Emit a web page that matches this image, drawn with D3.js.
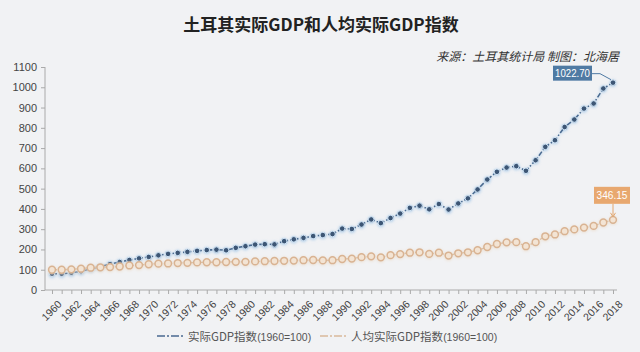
<!DOCTYPE html>
<html>
<head>
<meta charset="utf-8">
<script src="https://cdn.jsdelivr.net/npm/d3@7"></script>
<style>
  body { margin: 0; background: #f1f2f4; }
  svg { display: block; font-family: "Noto Sans CJK SC", "Liberation Sans", sans-serif; }
</style>
</head>
<body>
<svg id="chart" width="640" height="352"></svg>
<script>
// ── Data ──
const years = d3.range(1960, 2019);
const realGdp = [
  80, 80, 85, 92, 105, 115, 128, 138, 148, 156,
  163, 171, 178, 183, 188, 193, 197, 199, 196, 208,
  216, 224, 226, 225, 241, 250, 257, 266, 271, 276,
  303, 301, 323, 348, 330, 355, 377, 405, 416, 398,
  424, 397, 427, 452, 496, 545, 583, 604, 611, 588,
  640, 706, 739, 804, 841, 895, 920, 994, 1022.7
];
const perCapita = [
  100, 100, 102, 105, 110, 112, 113, 116, 121, 123,
  127, 130, 131, 133, 134, 136, 137, 137, 138, 139,
  139, 141, 142, 143, 144, 145, 147, 148, 146, 147,
  153, 155, 162, 166, 161, 172, 177, 184, 186, 178,
  184, 170, 181, 186, 196, 212, 227, 235, 236, 216,
  236, 265, 274, 290, 299, 308, 316, 333, 346.15
];
const yTicks = d3.range(0, 1101, 100);
const seriesNames = ["实际GDP指数(1960=100)", "人均实际GDP指数(1960=100)"];

const latin = "'Liberation Sans', sans-serif";
const svg = d3.select("#chart");
const x = d3.scaleLinear().domain([1960, 2018]).range([52, 613]);
const y = d3.scaleLinear().domain([0, 1100]).range([290, 67]);

// ── Glow filters ──
const defs = svg.append("defs");
function glow(id, color) {
  const f = defs.append("filter").attr("id", id)
    .attr("x", "-20%").attr("y", "-20%").attr("width", "140%").attr("height", "140%");
  f.append("feDropShadow").attr("dx", 0).attr("dy", 0.6)
    .attr("stdDeviation", 1.4).attr("flood-color", color).attr("flood-opacity", 0.9);
}
glow("glowBlue", "#9cc3e6");
glow("glowTan", "#ead9c6");

// ── Title ──
svg.append("text")
  .attr("x", 321).attr("y", 31)
  .attr("text-anchor", "middle")
  .attr("font-size", 17).attr("font-weight", "bold").attr("fill", "#222")
  .text("土耳其实际GDP和人均实际GDP指数");

svg.append("text")
  .attr("x", 619).attr("y", 61)
  .attr("text-anchor", "end")
  .attr("font-size", 12).attr("font-style", "italic").attr("fill", "#333")
  .text("来源：土耳其统计局  制图：北海居");

// ── Axes ──
const yAxis = svg.append("g")
  .attr("transform", "translate(45,0)")
  .call(d3.axisLeft(y).tickValues(yTicks).tickFormat(d3.format("d")).tickSize(4).tickPadding(4));
yAxis.select(".domain").attr("stroke", "#aaa").attr("d", `M0,${y(1100)}V${y(0)}`);
yAxis.selectAll(".tick line").attr("stroke", "#aaa");
yAxis.selectAll("text").attr("font-size", 11).attr("fill", "#444")
  .attr("font-family", latin);

const xAxis = svg.append("g")
  .attr("transform", `translate(0,${y(0)})`)
  .call(d3.axisBottom(x).tickValues(years).tickSize(4)
    .tickFormat(d => (d % 2 === 0 ? d : "")));
xAxis.select(".domain").attr("stroke", "#aaa").attr("d", "M45,0H617");
xAxis.selectAll(".tick line").attr("stroke", "#aaa");
xAxis.selectAll("text")
  .attr("font-size", 10.5).attr("fill", "#444")
  .attr("font-family", latin)
  .attr("text-anchor", "end")
  .attr("dy", 0).attr("dx", 0)
  .attr("transform", "translate(5,10) rotate(-45)");

// ── Lines ──
const lineGen = vals => d3.line().x((d, i) => x(years[i])).y(d => y(d))(vals);

const blueG = svg.append("g").attr("filter", "url(#glowBlue)");
blueG.append("path")
  .attr("d", lineGen(realGdp))
  .attr("fill", "none").attr("stroke", "#4a6a90").attr("stroke-width", 1.6)
  .attr("stroke-dasharray", "5,2,1.5,2");
blueG.selectAll("circle").data(realGdp).join("circle")
  .attr("cx", (d, i) => x(years[i])).attr("cy", d => y(d))
  .attr("r", 2.8).attr("fill", "#3c5675").attr("stroke", "#cfe2f3").attr("stroke-width", 1);

const tanG = svg.append("g").attr("filter", "url(#glowTan)");
tanG.append("path")
  .attr("d", lineGen(perCapita))
  .attr("fill", "none").attr("stroke", "#dcc0a4").attr("stroke-width", 1.3)
  .attr("stroke-dasharray", "5,2,1.5,2");
tanG.selectAll("circle").data(perCapita).join("circle")
  .attr("cx", (d, i) => x(years[i])).attr("cy", d => y(d))
  .attr("r", 3.4).attr("fill", "#f3e4d4").attr("stroke", "#d9b392").attr("stroke-width", 1.5);

// ── End-value callouts ──
const lastYear = years[years.length - 1];
const blueEnd = realGdp[realGdp.length - 1];
const tanEnd = perCapita[perCapita.length - 1];

svg.append("path")
  .attr("d", `M592,${y(blueEnd) - 9}H600L${x(lastYear) - 2},${y(blueEnd) - 3}`)
  .attr("fill", "none").attr("stroke", "#4f7aa3").attr("stroke-width", 1);
svg.append("rect")
  .attr("x", 553).attr("y", y(blueEnd) - 17).attr("width", 39).attr("height", 15)
  .attr("fill", "#4f7aa3");
svg.append("text")
  .attr("x", 572.5).attr("y", y(blueEnd) - 5.5)
  .attr("text-anchor", "middle").attr("font-size", 11).attr("fill", "#fff")
  .attr("font-family", latin)
  .attr("textLength", 35).attr("lengthAdjust", "spacingAndGlyphs")
  .text(blueEnd.toFixed(2));

svg.append("path")
  .attr("d", `M${x(lastYear)},${y(tanEnd) - 16}V${y(tanEnd) - 4}`)
  .attr("fill", "none").attr("stroke", "#e2a66e").attr("stroke-width", 1);
svg.append("path")
  .attr("d", `M${x(lastYear) - 2.5},${y(tanEnd) - 7}L${x(lastYear)},${y(tanEnd) - 3}L${x(lastYear) + 2.5},${y(tanEnd) - 7}`)
  .attr("fill", "none").attr("stroke", "#e2a66e").attr("stroke-width", 1);
svg.append("rect")
  .attr("x", 594).attr("y", y(tanEnd) - 33).attr("width", 36).attr("height", 17)
  .attr("fill", "#e8a86f");
svg.append("text")
  .attr("x", 612).attr("y", y(tanEnd) - 20.5)
  .attr("text-anchor", "middle").attr("font-size", 11).attr("fill", "#fff")
  .attr("font-family", latin)
  .attr("textLength", 31).attr("lengthAdjust", "spacingAndGlyphs")
  .text(tanEnd.toFixed(2));

// ── Legend ──
const legend = svg.append("g").attr("transform", "translate(0,336)");
const legendItems = [
  { x: 157, color: "#4a6a90", name: seriesNames[0] },
  { x: 320, color: "#d9b99a", name: seriesNames[1] }
];
legendItems.forEach(it => {
  legend.append("line")
    .attr("x1", it.x).attr("x2", it.x + 28).attr("y1", 0).attr("y2", 0)
    .attr("stroke", it.color).attr("stroke-width", 1.6)
    .attr("stroke-dasharray", "8,2,2,2");
  const t = legend.append("text")
    .attr("x", it.x + 31).attr("y", 4.5)
    .attr("font-size", 11.5).attr("fill", "#555");
  // CJK part in the CJK font, the numbers in a latin face
  const m = it.name.match(/^(.*?)(\(.*\))$/);
  t.append("tspan").text(m[1]);
  t.append("tspan").attr("font-family", latin).attr("font-size", 10.5).text(m[2]);
});
</script>
</body>
</html>
